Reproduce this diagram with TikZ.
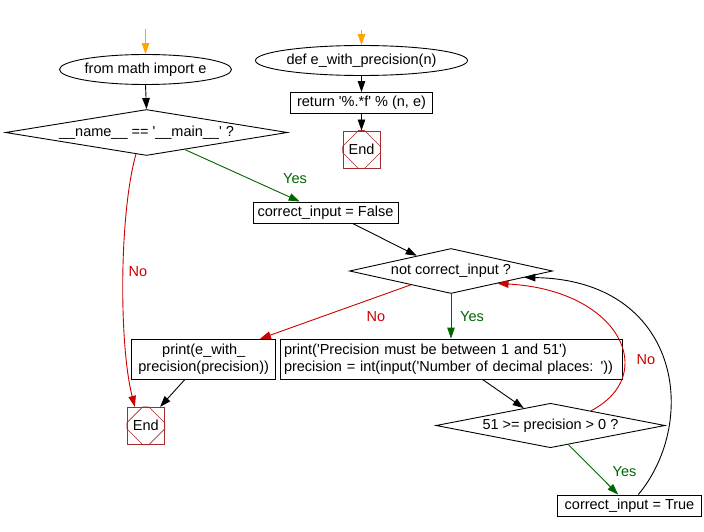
\documentclass[tikz,border=0pt]{standalone}
\usepackage{fontspec}
\setmainfont{Liberation Sans}
\usetikzlibrary{arrows.meta,shapes.geometric,calc}
\definecolor{ored}{RGB}{204,0,0}
\definecolor{ogreen}{RGB}{0,100,0}
\definecolor{oorange}{RGB}{255,165,0}
\definecolor{obrown}{RGB}{165,42,42}
\newcommand{\myq}{\textquotesingle}
\tikzset{
  ell/.style={ellipse, draw, inner sep=0pt, minimum height=30pt},
  box/.style={rectangle, draw, inner sep=0pt, minimum height=21pt},
  dia/.style={diamond, draw, inner sep=0pt},
  endbox/.style={rectangle, draw=obrown, minimum width=37pt, minimum height=37pt, inner sep=0pt},
  octline/.style={draw=obrown, line width=0.6pt},
  arr/.style={-{Triangle[length=11pt,width=7.5pt]}},
  yeslbl/.style={text=ogreen, inner sep=0pt},
  nolbl/.style={text=ored, inner sep=0pt}
}
\begin{document}
\begin{tikzpicture}[x=1pt,y=-1pt,line width=0.9pt,font=\fontsize{14.5}{17}\selectfont]
\useasboundingbox (0,0) rectangle (704,532);
\fill[white] (0,0) rectangle (704,532);
% nodes
\node[ell, minimum width=146pt] (imp) at (145.5,69.5) {from math import e};
\node[ell, minimum width=169pt] (def) at (361.5,60.5) {def e\_with\_precision(n)};
\node[box, minimum width=142pt] (ret) at (361.5,103) {return \myq\%.*f\myq{} \% (n, e)};
\node[endbox] (E1) at (361.5,149.5) {End};
\node[dia, minimum width=282pt, minimum height=46pt, aspect=6.13] (d1) at (146.5,132.5) {\_\_name\_\_ == \myq\_\_main\_\_\myq{} ?};
\node[box, minimum width=145pt] (F) at (325.5,212.5) {correct\_input = False};
\node[dia, minimum width=203pt, minimum height=45pt, aspect=4.5] (N) at (451,271) {not correct\_input ?};
\node[box, minimum width=144pt, minimum height=40pt, align=center] (P) at (203.7,359.3) {print(e\_with\_\\precision(precision))};
\node[box, minimum width=342pt, minimum height=40pt, align=left, text width=334pt] (B) at (451,359) {print(\myq Precision must be between 1 and 51\myq)\\precision = int(input(\myq Number of decimal places: \myq))};
\node[endbox] (E2) at (145.8,425.8) {End};
\node[dia, minimum width=229pt, minimum height=44.5pt, aspect=5.15] (D) at (550.5,425.5) {51 >= precision > 0 ?};
\node[box, minimum width=144.4pt] (T) at (629.5,505.5) {correct\_input = True};
% octagons in End boxes
\foreach \e in {E1,E2}{
  \draw[octline] ($(\e.north west)!0.42!(\e.north east)$) -- ($(\e.north west)!0.58!(\e.north east)$)
    -- ($(\e.north east)!0.42!(\e.south east)$) -- ($(\e.north east)!0.58!(\e.south east)$)
    -- ($(\e.south east)!0.42!(\e.south west)$) -- ($(\e.south east)!0.58!(\e.south west)$)
    -- ($(\e.south west)!0.42!(\e.north west)$) -- ($(\e.south west)!0.58!(\e.north west)$) -- cycle;
}
% start arrows
\coordinate (s1) at (145.5,29);
\coordinate (s2) at (361.5,30);
\draw[arr, oorange] (s1) -- (imp.north);
\draw[arr, oorange] (s2) -- (def.north);
% connectors
\draw[arr] (imp.south) -- (d1.north);
\draw[arr] (def.south) -- (ret.north);
\draw[arr] (ret.south) -- (E1.north);
\draw[arr, ogreen] (d1.336) -- (F.157);
\draw[arr, ored] (d1.244) .. controls (119,215) and (119,345) .. (E2.120);
\draw[arr] (F.338) -- (N.156);
\draw[arr, ored] (N.199) -- (P.20);
\draw[arr, ogreen] (N.south) -- (B.north);
\draw[arr] (P.227) -- (E2.53);
\draw[arr] (B.327) -- (D.147);
\draw[arr, ored] (D.20) .. controls (660,375) and (620,290) .. (N.345);
\draw[arr, ogreen] (D.313) -- (T.136);
\draw[arr] (T.51) .. controls (700,420) and (680,280) .. (N.355);
% labels
\node[yeslbl] (l1) at (295,179) {Yes};
\node[nolbl] (l2) at (138,271.5) {No};
\node[nolbl] (l3) at (376,317) {No};
\node[yeslbl] (l4) at (472,317) {Yes};
\node[nolbl] (l5) at (646,359.5) {No};
\node[yeslbl] (l6) at (624.5,471.5) {Yes};
\end{tikzpicture}
\end{document}
